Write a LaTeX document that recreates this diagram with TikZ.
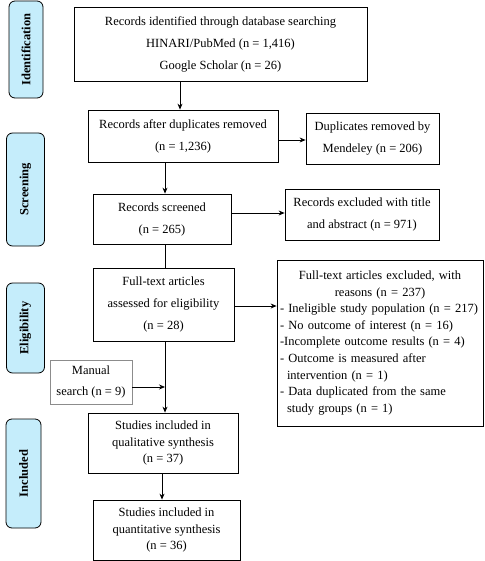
\documentclass[tikz,border=0pt]{standalone}
\usepackage{fontspec}
\setmainfont{Liberation Serif}
\usetikzlibrary{arrows.meta}
\definecolor{sidefill}{RGB}{197,237,251}
\definecolor{manualgray}{RGB}{140,140,140}
\begin{document}
\begin{tikzpicture}[x=1pt,y=-1pt,
  box/.style={draw, line width=0.8pt, align=center, inner sep=0pt,
    font=\fontsize{12.5}{22}\selectfont},
  tightbox/.style={box, font=\fontsize{12.5}{16.5}\selectfont},
  side/.style={draw, line width=0.8pt, fill=sidefill, rounded corners=6pt,
    rotate=90, inner sep=0pt, font=\fontsize{12.5}{15}\selectfont\bfseries},
  arr/.style={line width=0.8pt, -{Stealth[length=6pt,width=5pt]}},
  plain/.style={line width=0.8pt}]
\path[use as bounding box, fill=white] (0,0) rectangle (484,561);

% side labels (width/height swapped because of rotation)
\node[side, minimum width=97pt, minimum height=34pt] (sid) at (26,49.5) {Identification};
\node[side, minimum width=113pt, minimum height=38pt] (sscr) at (25.5,189.5) {Screening};
\node[side, minimum width=90pt, minimum height=38pt] (selig) at (25.5,328) {Eligibility};
\node[side, minimum width=109pt, minimum height=35pt] (sinc) at (23.5,473.5) {Included};

% main boxes
\node[box, minimum width=293pt, minimum height=74pt] (b1) at (220.5,44)
  {Records identified through database searching\\HINARI/PubMed (n = 1,416)\\Google Scholar (n = 26)};
\node[box, minimum width=190pt, minimum height=52pt] (b2) at (183,136)
  {Records after duplicates removed\\(n = 1,236)};
\node[box, minimum width=133pt, minimum height=51pt] (dup) at (372.5,138.5)
  {Duplicates removed by\\Mendeley (n = 206)};
\node[box, minimum width=138pt, minimum height=50pt] (b3) at (162,219)
  {Records screened\\(n = 265)};
\node[box, minimum width=154pt, minimum height=51pt] (exc) at (362,214.5)
  {Records excluded with title\\and abstract (n = 971)};
\node[box, minimum width=141pt, minimum height=73pt] (b4) at (163.5,304.5)
  {Full-text articles\\assessed for eligibility\\(n = 28)};
\node[draw, line width=0.8pt, inner xsep=3pt, inner ysep=0pt, text width=200pt,
  align=left, minimum height=166pt, font=\fontsize{12.5}{16.6}\selectfont] (exc2) at (380,343)
  {\makebox[200pt][c]{Full-text articles excluded, with}\\
   \makebox[200pt][c]{reasons (n = 237)}\\
   - Ineligible study population (n = 217)\\
   - No outcome of interest (n = 16)\\
   -Incomplete outcome results (n = 4)\\
   - Outcome is measured after\\
   \hspace*{7pt}intervention (n = 1)\\
   - Data duplicated from the same\\
   \hspace*{7pt}study groups (n = 1)};
\node[box, draw=manualgray, minimum width=82pt, minimum height=44pt,
  font=\fontsize{12.5}{21}\selectfont] (man) at (91,382)
  {Manual\\search (n = 9)};
\node[tightbox, minimum width=150pt, minimum height=60pt] (b5) at (163,443)
  {Studies included in\\qualitative synthesis\\(n = 37)};
\node[tightbox, minimum width=147pt, minimum height=60pt] (b6) at (166.5,530)
  {Studies included in\\quantitative synthesis\\(n = 36)};

% helper coordinates
\coordinate (x180) at (180,0);
\coordinate (x165) at (165,0);
\coordinate (x162) at (162,0);
\coordinate (y140) at (0,140);
\coordinate (y213) at (0,213);
\coordinate (y306) at (0,306);
\coordinate (y387) at (0,387);

% connectors
\draw[arr] (b1.south -| x180) -- (b2.north -| x180);
\draw[arr] (b2.south -| x165) -- (b3.north -| x165);
\draw[plain] (b3.south -| x165) -- (b4.north -| x165);
\draw[arr] (b4.south -| x165) -- (b5.north -| x165);
\draw[arr] (b5.south -| x162) -- (b6.north -| x162);
\draw[arr] (b2.east |- y140) -- (dup.west |- y140);
\draw[arr] (b3.east |- y213) -- (exc.west |- y213);
\draw[arr] (b4.east |- y306) -- (exc2.west |- y306);
\coordinate (mj) at (x165 |- y387);
\draw[arr] (man.east |- y387) -- (mj);
\end{tikzpicture}
\end{document}
